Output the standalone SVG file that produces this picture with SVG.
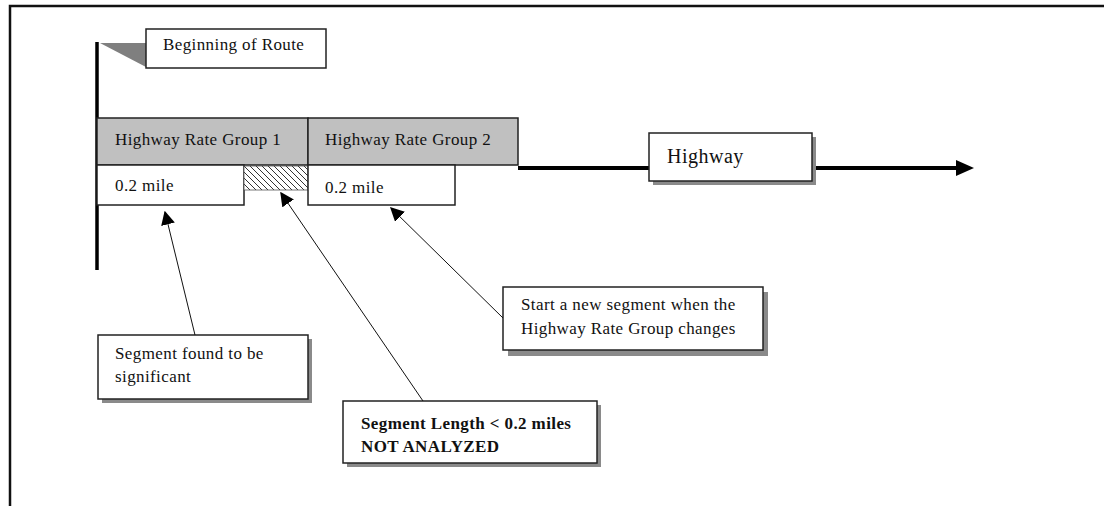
<svg xmlns="http://www.w3.org/2000/svg" width="1104" height="506" viewBox="0 0 1104 506">
<style>
text{font-family:"Liberation Serif","Times New Roman",serif;font-size:17px;letter-spacing:0.4px;fill:#111}
.b{font-weight:bold}
.box{fill:#fff;stroke:#222;stroke-width:1.5}
.grp{fill:#c0c0c0;stroke:#222;stroke-width:1.5}
.sh{fill:#8a8a8a}
.conn{stroke:#111;stroke-width:1;fill:none}
</style>
<defs>
<marker id="ah" viewBox="0 0 10 10" refX="9" refY="5" markerWidth="14" markerHeight="14" markerUnits="userSpaceOnUse" orient="auto">
<path d="M0,0 L10,5 L0,10 z" fill="#000"/>
</marker>
<pattern id="hatch" width="6" height="6" patternUnits="userSpaceOnUse">
<rect width="6" height="6" fill="#fff"/>
<path d="M0,0 L6,6 M-3,3 L0,6 M3,-3 L6,0" stroke="#333" stroke-width="1"/>
</pattern>
</defs>
<rect width="1104" height="506" fill="#fff"/>
<g id="frame">
<path d="M10,506 L10,6 L1104,6" fill="none" stroke="#111" stroke-width="2.5"/>
</g>
<g id="route-start">
<line x1="97" y1="42" x2="97" y2="270" stroke="#000" stroke-width="3.5"/>
<polygon points="100,43 146,43 146,67" fill="#7f7f7f"/>
<rect class="box" x="146" y="29" width="180" height="39"/>
<text x="163" y="50">Beginning of Route</text>
</g>
<g id="highway">
<line x1="518" y1="168" x2="960" y2="168" stroke="#000" stroke-width="4"/>
<polygon points="956,160 974,168 956,176" fill="#000"/>
<rect class="sh" x="653" y="137" width="163" height="48"/>
<rect class="box" x="649" y="133" width="163" height="48"/>
<text x="667" y="163" style="font-size:20px;letter-spacing:0.5px">Highway</text>
</g>
<g id="rate-group-1">
<rect class="grp" x="97" y="118" width="211" height="47"/>
<text x="115" y="145">Highway Rate Group 1</text>
</g>
<g id="rate-group-2">
<rect class="grp" x="308" y="118" width="210" height="47"/>
<text x="325" y="145">Highway Rate Group 2</text>
</g>
<g id="segment-1">
<rect class="box" x="97" y="165" width="147" height="40"/>
<text x="115" y="191">0.2 mile</text>
</g>
<g id="short-segment">
<rect x="244" y="166" width="64" height="24" fill="url(#hatch)" stroke="#555" stroke-width="0.8"/>
</g>
<g id="segment-2">
<rect class="box" x="308" y="165" width="147" height="40"/>
<text x="325" y="193">0.2 mile</text>
</g>
<g id="note-significant">
<rect class="sh" x="102" y="339" width="210" height="64"/>
<rect class="box" x="98" y="335" width="210" height="64"/>
<text x="115" y="359">Segment found to be</text>
<text x="115" y="382">significant</text>
</g>
<g id="note-not-analyzed">
<rect class="sh" x="347" y="405" width="254" height="62"/>
<rect class="box" x="343" y="401" width="254" height="62"/>
<text class="b" x="361" y="429">Segment Length &lt; 0.2 miles</text>
<text class="b" x="361" y="452">NOT ANALYZED</text>
</g>
<g id="note-new-segment">
<rect class="sh" x="508" y="292" width="260" height="64"/>
<rect class="box" x="503" y="287" width="260" height="63"/>
<text x="521" y="310">Start a new segment when the</text>
<text x="521" y="334">Highway Rate Group changes</text>
</g>
<g id="connectors">
<line class="conn" x1="195" y1="335" x2="165" y2="212" marker-end="url(#ah)"/>
<line class="conn" x1="423" y1="401" x2="281" y2="193" marker-end="url(#ah)"/>
<line class="conn" x1="503" y1="318" x2="391" y2="208" marker-end="url(#ah)"/>
</g>
</svg>
